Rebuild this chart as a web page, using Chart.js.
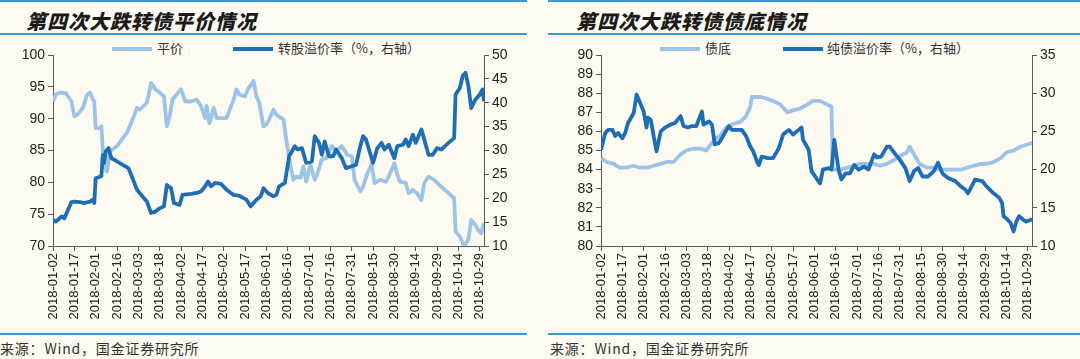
<!DOCTYPE html>
<html>
<head>
<meta charset="utf-8">
<script src="https://cdn.jsdelivr.net/npm/chart.js@4"></script>
<style>
  body { margin: 0; background: #fdfaf2; width: 1080px; height: 359px; overflow: hidden; position: relative; font-family: "Noto Sans CJK SC", sans-serif; }
  .rule { position: absolute; height: 2px; background: #3a9bd6; }
  .title { position: absolute; top: 6px; font-size: 20px; font-weight: 900; font-style: italic; color: #1b1b1b; letter-spacing: 1px; }
  .src { position: absolute; top: 338px; font-size: 14px; color: #333; letter-spacing: 0.8px; }
  .leg { position: absolute; top: 39px; font-size: 13px; color: #333; line-height: 18px; }
  .leg i { position: absolute; top: 8px; width: 40px; height: 3.5px; }
  canvas { position: absolute; top: 40px; }
</style>
</head>
<body>
<div class="rule" style="left:0;width:527px;top:0"></div>
<div class="rule" style="left:548px;width:532px;top:0"></div>
<div class="rule" style="left:0;width:527px;top:33px"></div>
<div class="rule" style="left:548px;width:532px;top:33px"></div>
<div class="rule" style="left:0;width:527px;top:333px"></div>
<div class="rule" style="left:548px;width:532px;top:333px"></div>

<div class="title" style="left:26px">第四次大跌转债平价情况</div>
<div class="title" style="left:576px">第四次大跌转债债底情况</div>

<div class="leg" style="left:112px"><i style="left:0;background:#9dc3e6"></i><span style="margin-left:45px">平价</span></div>
<div class="leg" style="left:233px"><i style="left:0;background:#1f6eb5"></i><span style="margin-left:45px">转股溢价率（%，右轴）</span></div>
<div class="leg" style="left:660px"><i style="left:0;background:#9dc3e6"></i><span style="margin-left:45px">债底</span></div>
<div class="leg" style="left:783px"><i style="left:0;background:#1f6eb5"></i><span style="margin-left:44px">纯债溢价率（%，右轴）</span></div>

<canvas id="left" width="527" height="290" style="left:0"></canvas>
<canvas id="right" width="532" height="290" style="left:548px"></canvas>

<div class="src" style="left:0">来源：Wind，国金证券研究所</div>
<div class="src" style="left:550px">来源：Wind，国金证券研究所</div>

<script>
// x values are days counted from 2018-01-02
const tickLabels = ['2018-01-02','2018-01-17','2018-02-01','2018-02-16','2018-03-03','2018-03-18',
  '2018-04-02','2018-04-17','2018-05-02','2018-05-17','2018-06-01','2018-06-16','2018-07-01',
  '2018-07-16','2018-07-31','2018-08-15','2018-08-30','2018-09-14','2018-09-29','2018-10-14','2018-10-29'];

// 平价
const parityDays = [0,2,5,9,13,15,17,21,24,26,28,29,30,33,34,35,36,38,40,45,52,56,59,61,66,69,72,75,78,80,82,84,88,90,93,97,101,104,107,108,110,113,115,120,122,127,129,131,135,137,141,143,145,148,150,152,155,157,162,164,167,169,171,174,176,178,181,184,186,189,192,196,199,203,207,210,212,216,218,221,224,226,230,234,236,240,242,244,248,250,253,256,259,261,264,268,273,278,282,283,286,289,292,294,297,299,301,303];
const parity = [92.7,93.8,94.1,94,92.7,90.4,90.6,91.7,93.8,94.1,93,92.7,88.5,88.5,88.8,85.1,82.5,81.7,84.9,85.7,87.8,89.9,91.7,91.4,92.5,95.6,94.6,94.1,93.5,88.8,90.4,93,94.1,94.6,92.7,92.7,93,92,90.1,92,89.3,91.7,90.1,90.1,90.1,93,94.6,93.8,93.5,94.6,95.9,93.5,92.5,88.8,89.1,89.9,91.4,90.6,89.9,86.7,82.5,80.4,80.9,80.7,82.5,80.1,82.8,80.4,81.4,83.6,83.8,85.7,84.9,85.7,84.3,84.1,80.4,78.6,79.3,81.4,82.8,79.9,80.4,80.1,80.9,83,81.2,80.1,79.9,78.3,78.8,78.3,77.2,79.9,80.9,80.4,79.3,78.3,77.5,72.3,71.5,70,71,74.1,73.3,72.5,72,73.6];

// 转股溢价率 (%, 右轴)
const convPremDays = [0,2,6,8,10,13,15,19,22,26,28,29,30,34,35,36,37,39,41,45,49,53,55,59,62,66,69,72,75,78,80,83,85,89,91,97,101,104,107,109,111,114,118,122,127,131,136,139,143,146,148,151,155,157,159,163,166,170,172,175,178,182,184,187,189,191,194,197,199,203,206,210,213,216,218,220,225,228,231,233,236,240,242,246,248,250,253,255,259,261,264,267,270,273,278,282,283,286,288,290,292,294,297,300,302,303];
const convPrem = [15.5,15.1,16.2,15.8,17.2,19.2,19.3,19.2,19,19.3,19.7,19,24.2,24.6,29.1,27.4,29.8,30.5,28.4,27.7,27,26.3,24.9,21.8,20.7,19.3,16.9,17.2,17.9,18.3,22.8,22.1,19,18.6,20.7,20.9,21.1,21.4,22.5,23.5,22.5,23.2,23,21.8,20.7,20.5,19.7,18.3,19.7,20.4,22.1,21.1,20.4,20.7,22.5,23.2,28.8,30.9,30.2,30.5,27.4,27.7,33,31.6,29.1,31.9,28.8,28.8,30.2,28.4,26.3,26.7,27,30.9,33,32.3,27.4,30.5,31.6,30.2,31.2,28.4,30.9,31.2,32.3,30.9,33.3,31.6,34.4,32.3,29.1,29.1,30.5,30.2,31.6,32.6,41.7,43.1,45.6,46.3,43.5,38.9,40.7,41.7,42.8,40.3];

// 债底
const floorDays = [0,4,9,13,18,23,27,32,37,42,46,51,56,60,65,70,74,79,84,88,93,98,102,105,106,112,117,121,126,131,135,140,145,149,154,159,162,163,168,173,178,182,187,192,196,201,206,210,215,217,220,224,229,234,238,243,248,253,257,262,267,271,276,281,285,290,295,299,303];
const bondFloor = [84.6,84.4,84.3,84.1,84.1,84.2,84.1,84.1,84.2,84.3,84.4,84.4,84.8,85,85.1,85.1,85,85.5,85.8,86.2,86.4,86.5,86.8,87.3,87.8,87.8,87.7,87.6,87.4,87,87.1,87.2,87.4,87.6,87.6,87.4,87.3,84,84,84.1,84.2,84.3,84.3,84.3,84.2,84.3,84.5,84.7,84.9,85.2,84.8,84.3,84.1,84.1,84,84,84,84,84.1,84.2,84.3,84.3,84.4,84.6,84.9,85,85.2,85.3,85.4];

// 纯债溢价率 (%, 右轴)
const bondPremDays = [0,3,5,8,10,12,15,17,19,23,25,26,30,32,33,35,37,39,42,45,49,52,56,58,61,64,67,71,72,76,78,80,83,85,87,90,92,95,99,102,105,107,110,111,113,117,121,125,128,132,135,139,141,142,146,148,152,154,156,160,162,164,167,169,172,175,178,181,185,188,192,194,197,201,203,207,210,214,217,220,223,226,230,234,237,240,244,249,253,256,258,263,268,271,276,280,282,283,285,288,290,292,294,297,299,302,303];
const bondPrem = [22.6,24.8,25.2,25.2,24.4,24.8,24.1,24.8,26.1,27.4,29.8,29.4,27.6,25.5,26.8,26.5,24.4,22.4,25,25.5,25.9,26.1,27,25.7,25.5,25.7,25.7,27.6,25.9,26.3,25.9,23.3,23.5,24.1,24.8,25.7,25.2,25.2,25.2,24.4,23,22.4,20.9,20.6,21.7,21.5,21.5,22.8,24.6,25.2,24.6,25.2,25.5,23.9,22.6,19.8,18.7,18.2,20,20.2,20,23.9,20,18.7,19.5,19.5,20.6,20,20.4,20,22,21.6,21.7,23,23,22,21.3,20.2,18.5,19.8,20.2,19.1,19.1,19.8,20.9,19.5,18.9,18.5,17.8,17.4,16.9,18.7,18.5,17.8,16.9,16.3,15.6,13.9,13.6,13,11.9,13.2,13.9,13.4,13.2,13.4,13.6];

const LIGHT = '#9dc3e6';
const DARK = '#1f6eb5';
const AXIS = '#595959';
const tickFont = { family: '"Liberation Sans", Arial, sans-serif', size: 14 };

const pts = (days, vals) => days.map((d, i) => ({ x: d, y: vals[i] }));

function yAxis(pos, min, max, step, width) {
  return {
    type: 'linear', position: pos, min, max,
    ticks: { stepSize: step, autoSkip: false, color: '#222', font: tickFont, padding: 3 },
    grid: { drawOnChartArea: false, tickLength: 5, color: AXIS },
    border: { color: AXIS, width: 1 },
    afterFit: s => { s.width = width; },
  };
}

function makeChart(id, lightData, darkData, left, right) {
  return new Chart(document.getElementById(id), {
    type: 'line',
    data: {
      datasets: [
        { data: darkData, yAxisID: 'y1', borderColor: DARK, borderWidth: 3.8, order: 0 },
        { data: lightData, yAxisID: 'y', borderColor: LIGHT, borderWidth: 3.8, order: 1 },
      ]
    },
    options: {
      responsive: false,
      animation: false,
      layout: { padding: { top: 15, left: 0, right: 0, bottom: 0 } },
      elements: { point: { radius: 0 }, line: { tension: 0, borderJoinStyle: 'round' } },
      scales: {
        x: {
          type: 'linear', min: 0, max: 303,
          afterBuildTicks: s => { s.ticks = tickLabels.map((_, i) => ({ value: i * 15 })); },
          ticks: {
            autoSkip: false, minRotation: 90, maxRotation: 90, padding: 2,
            color: '#222', font: { family: '"Liberation Sans", Arial, sans-serif', size: 13 },
            callback: (v, i) => tickLabels[i],
          },
          grid: { drawOnChartArea: false, tickLength: 5, color: AXIS },
          border: { color: AXIS, width: 1 },
          afterFit: s => { s.height = 84; },
        },
        y: left,
        y1: right,
      },
      plugins: { legend: { display: false }, tooltip: { enabled: false } }
    }
  });
}

makeChart('left', pts(parityDays, parity), pts(convPremDays, convPrem),
  yAxis('left', 70, 100, 5, 53), yAxis('right', 10, 50, 5, 43));
makeChart('right', pts(floorDays, bondFloor), pts(bondPremDays, bondPrem),
  yAxis('left', 80, 90, 1, 53), yAxis('right', 10, 35, 5, 48));
</script>
</body>
</html>
